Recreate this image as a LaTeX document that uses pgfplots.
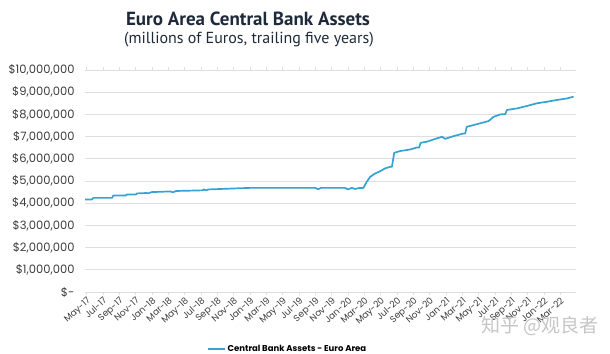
\documentclass[border=0pt]{standalone}
\usepackage{pgfplots}
\pgfplotsset{compat=1.18}
\usepackage{fontspec}
\setmainfont{Poppins}
\newfontfamily\titlefont{PT Sans}
\newfontfamily\cjk{Noto Sans CJK SC}
\definecolor{linecol}{RGB}{52,163,210}
\definecolor{titlecol}{RGB}{30,42,58}
\definecolor{gridcol}{RGB}{222,222,222}
\definecolor{tickcol}{RGB}{60,60,60}
\pgfplotstableread{
m v
0 4170000
0.86 4170000
1.02 4240000
3.31 4240000
3.47 4350000
5.02 4350000
5.11 4390000
6.25 4390000
6.34 4440000
7.56 4460000
7.72 4440000
8.17 4500000
10.42 4530000
10.78 4490000
11.15 4550000
14.46 4580000
14.5 4620000
14.83 4580000
15.11 4620000
19.4 4680000
20.2 4690000
28.19 4690000
28.55 4630000
28.9 4690000
31.86 4690000
32.2 4620000
32.68 4690000
33.09 4640000
33.5 4680000
34.1 4690000
34.5 4960000
34.93 5190000
35.54 5340000
36.15 5440000
36.76 5570000
37.38 5640000
37.59 5640000
37.87 6270000
38.6 6350000
39.83 6420000
40.65 6510000
40.93 6510000
41.1 6720000
41.87 6770000
42.68 6870000
43.71 6990000
44.12 6900000
45.13 7020000
46.36 7140000
46.57 7140000
46.75 7440000
47.59 7520000
48.81 7640000
49.42 7700000
50.04 7890000
50.86 8000000
51.47 8010000
51.68 8200000
52.9 8270000
54.13 8380000
55.35 8500000
56.58 8570000
57.81 8650000
59.03 8720000
59.84 8800000
}\datatable
\begin{document}
\begin{tikzpicture}[x=1bp,y=1bp]
\path[use as bounding box] (0,0) rectangle (610,353);
\node[font=\titlefont\fontsize{19bp}{21bp}\selectfont\bfseries, text=titlecol] at (248,353-19) {Euro Area Central Bank Assets};
\node[font=\titlefont\fontsize{16bp}{18bp}\selectfont, text=titlecol] at (249,353-40) {(millions of Euros, trailing five years)};
\begin{axis}[
  at={(85bp,61bp)}, anchor=south west,
  width=490.7bp, height=222bp, scale only axis,
  xmin=0, xmax=60.1, ymin=0, ymax=10000000,
  scaled ticks=false,
  axis line style={draw=none},
  ymajorgrids, grid style={gridcol, line width=0.8pt},
  ytick={0,1000000,2000000,3000000,4000000,5000000,6000000,7000000,8000000,9000000,10000000},
  yticklabels={{\$-},{\$1,000,000},{\$2,000,000},{\$3,000,000},{\$4,000,000},{\$5,000,000},{\$6,000,000},{\$7,000,000},{\$8,000,000},{\$9,000,000},{\$10,000,000}},
  ytick style={draw=none},
  yticklabel style={font=\fontsize{11.5bp}{13bp}\selectfont, text=tickcol, xshift=-4bp},
  xtick={0.2,2.2,...,58.2},
  xticklabels={May-17,Jul-17,Sep-17,Nov-17,Jan-18,Mar-18,May-18,Jul-18,Sep-18,Nov-18,Jan-19,Mar-19,May-19,Jul-19,Sep-19,Nov-19,Jan-20,Mar-20,May-20,Jul-20,Sep-20,Nov-20,Jan-21,Mar-21,May-21,Jul-21,Sep-21,Nov-21,Jan-22,Mar-22},
  xticklabel style={font=\fontsize{9bp}{10bp}\selectfont, text=tickcol, rotate=42, anchor=north east, inner sep=1bp},
  tick align=outside, major tick length=3bp,
  xtick style={draw=gridcol, line width=0.6pt},
  legend style={at={(0.413,-0.257)}, anchor=center, draw=none, fill=none, font=\fontsize{8.5bp}{10bp}\selectfont\bfseries, text=black},
  legend image code/.code={\draw[#1, line width=1.5pt] (0bp,0bp) -- (17bp,0bp);},
  clip=false,
]
\addplot[linecol, line width=1.7pt, line join=round] table[x=m, y=v] {\datatable};
\addlegendentry{Central Bank Assets - Euro Area}
\end{axis}
\node[font=\cjk\fontsize{19bp}{21bp}\selectfont, text=gray!45, anchor=west] at (478,353-326) {知乎 @观良者};
\end{tikzpicture}
\end{document}
